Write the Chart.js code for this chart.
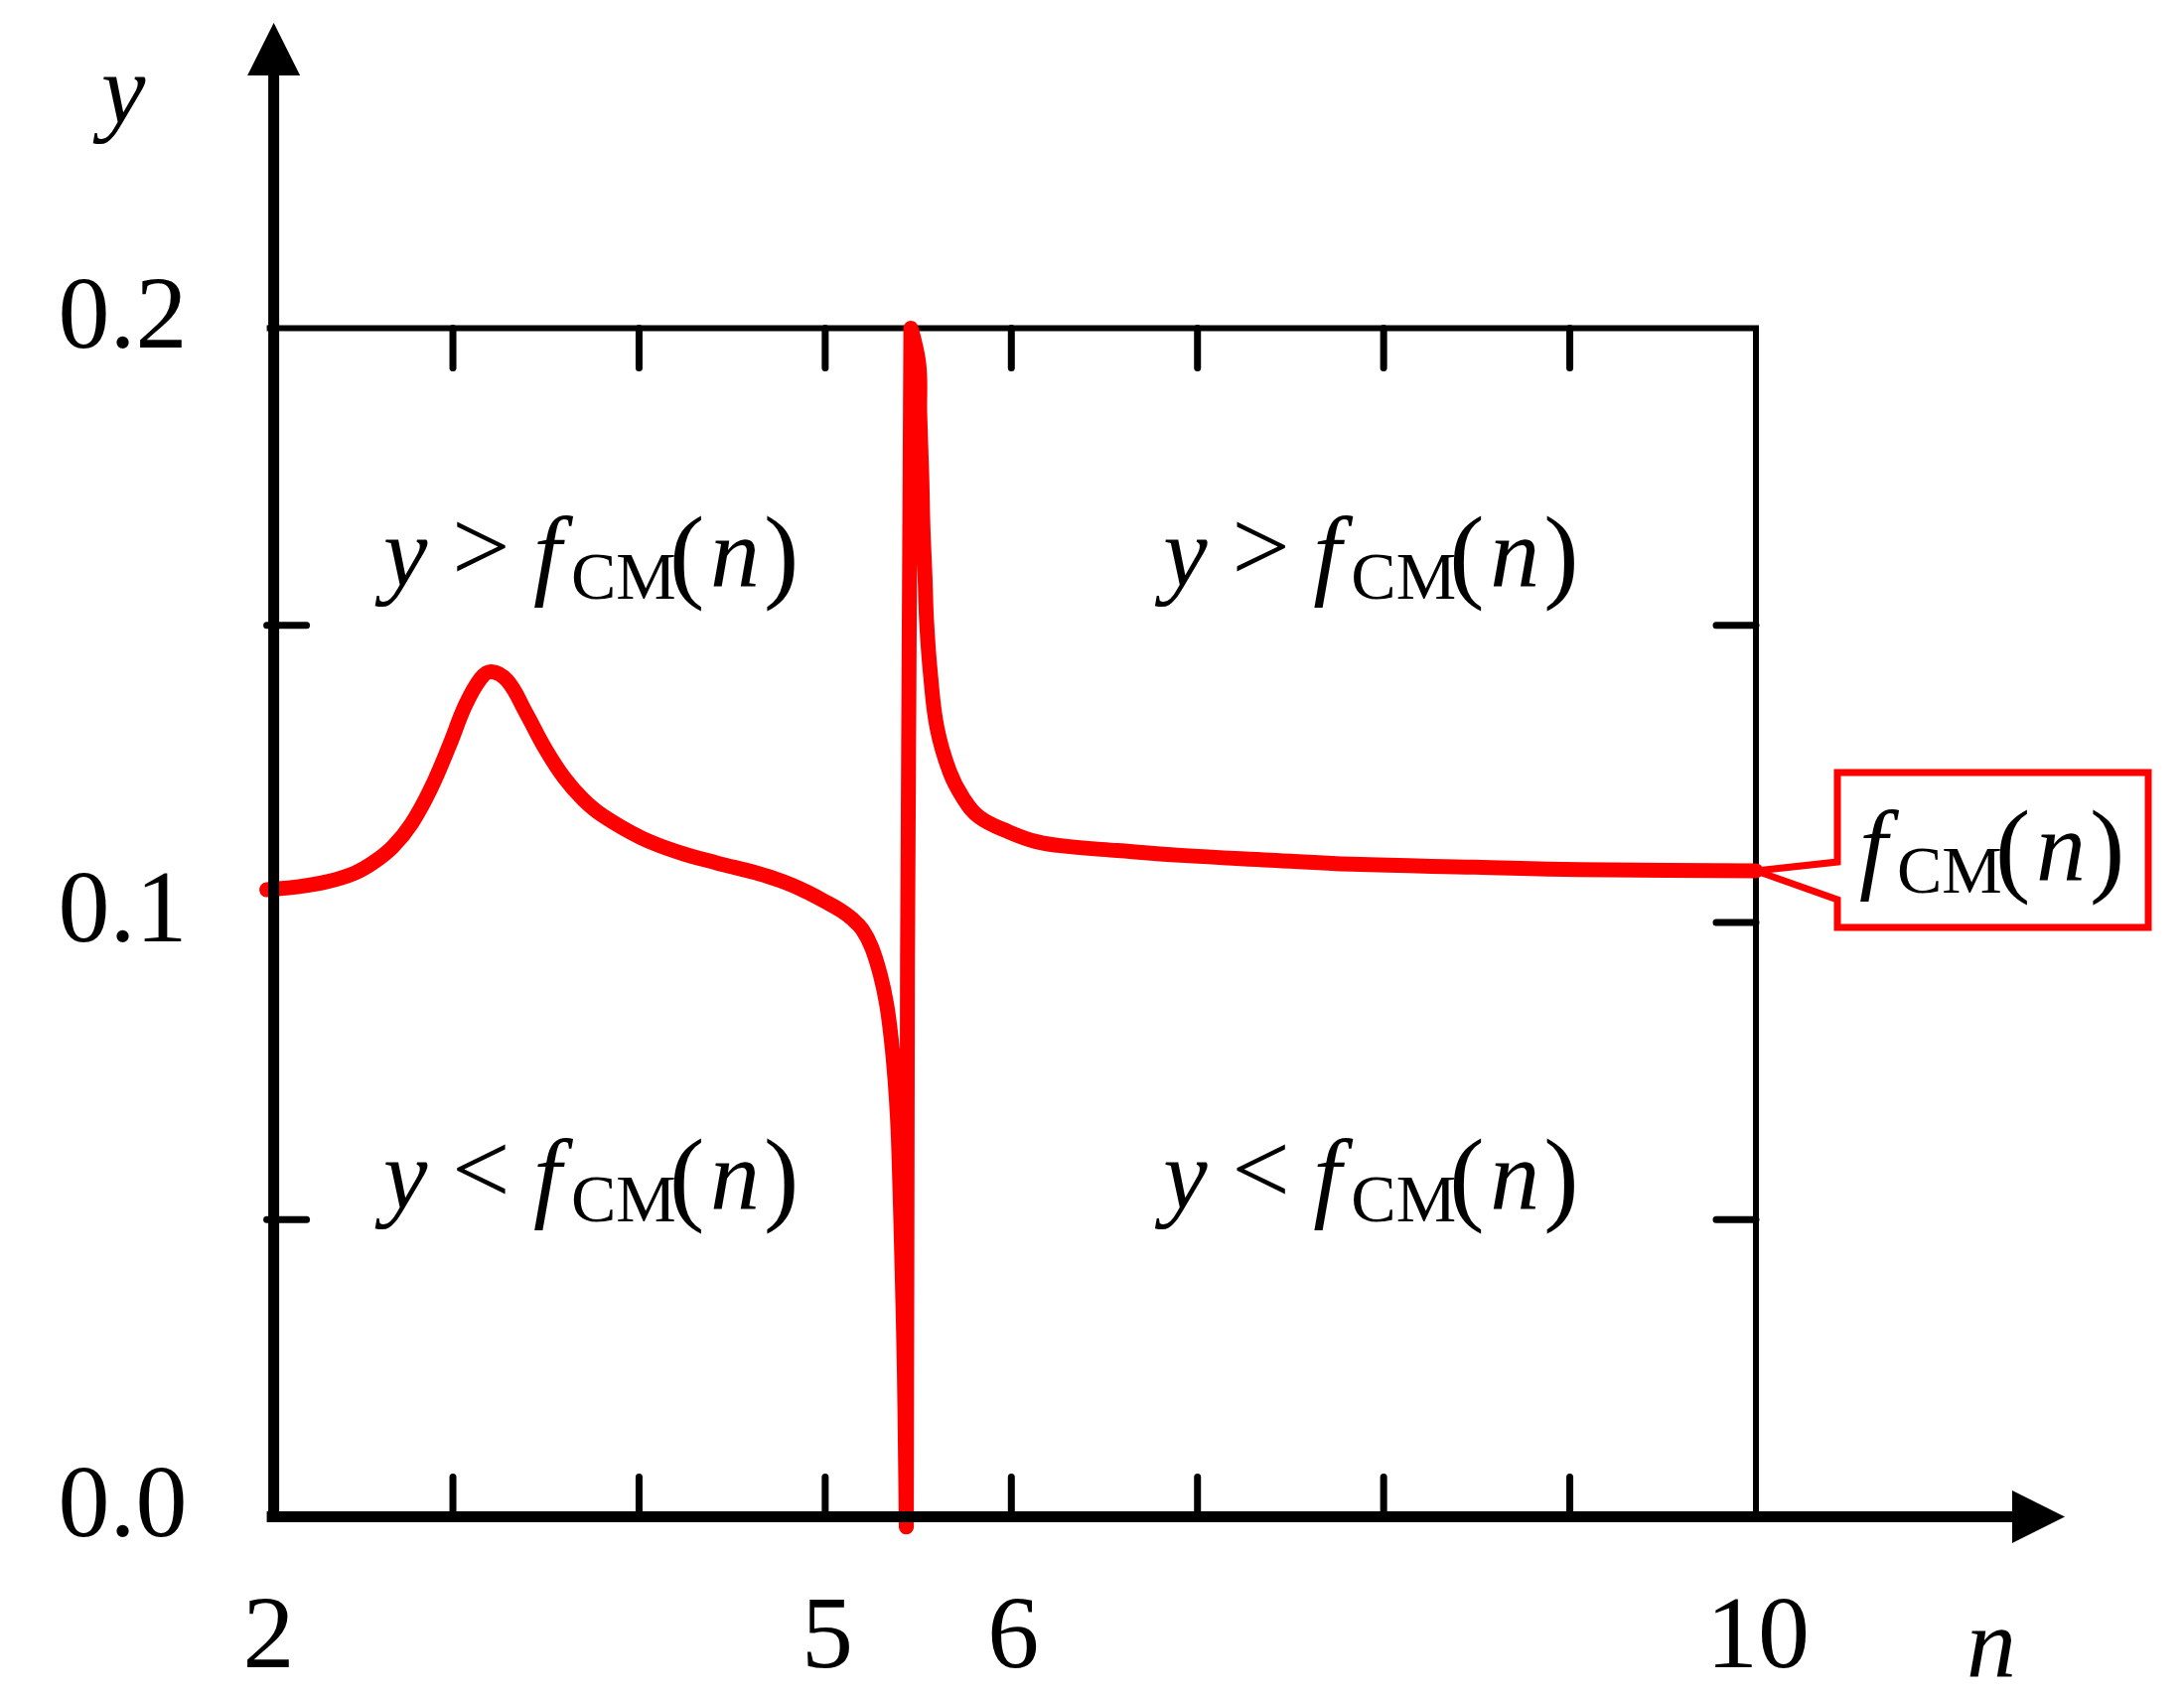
<!DOCTYPE html>
<html><head><meta charset="utf-8">
<script src="https://cdn.jsdelivr.net/npm/chart.js@4.4.1/dist/chart.umd.min.js"></script>
<style>html,body{margin:0;padding:0;background:#fff;overflow:hidden}canvas{display:block}</style>
</head><body>
<canvas id="c" width="2199" height="1708"></canvas>
<script>
// ---- data ----
const nValues = [2.000, 2.163, 2.328, 2.471, 2.573, 2.676, 2.779, 2.881, 2.984, 3.066, 3.148, 3.205, 3.292, 3.394, 3.497, 3.599, 3.700, 3.804, 4.009, 4.214, 4.420, 4.624, 4.736, 4.822, 4.910, 4.995, 5.085, 5.145, 5.200, 5.250, 5.296, 5.330, 5.356, 5.375, 5.388, 5.397, 5.413, 5.425, 5.432, 5.436,
  5.460, 5.503, 5.508, 5.519, 5.525, 5.536, 5.545, 5.566, 5.601, 5.668, 5.740, 5.829, 5.990, 6.135, 6.300, 6.570, 6.910, 7.390, 7.830, 8.490, 9.050, 10.000];
const fcmValues = [0.1055, 0.1060, 0.1069, 0.1083, 0.1101, 0.1127, 0.1167, 0.1225, 0.1300, 0.1365, 0.1410, 0.1422, 0.1407, 0.1352, 0.1292, 0.1243, 0.1207, 0.1180, 0.1143, 0.1118, 0.1100, 0.1084, 0.1073, 0.1063, 0.1050, 0.1036, 0.1020, 0.1006, 0.0988, 0.0958, 0.0912, 0.0862, 0.0800, 0.0735, 0.0672, 0.0600, 0.0414, 0.0246, 0.0079, -0.0010,
  0.2000, 0.1939, 0.1855, 0.1750, 0.1667, 0.1583, 0.1505, 0.1416, 0.1327, 0.1254, 0.1210, 0.1177, 0.1152, 0.1136, 0.1128, 0.1121, 0.1113, 0.1105, 0.1098, 0.1093, 0.1089, 0.1087];
const xTickLabels = [2, 5, 6, 10];
const yTickLabels = [0.0, 0.1, 0.2];
const xMinorTicks = [3, 4, 5, 6, 7, 8, 9];
const yMinorTicksLeft = [0.05, 0.15];
const yMinorTicksRight = [0.05, 0.1, 0.15];
const regionRelations = ['>', '>', '<', '<'];
const seriesName = 'fCM(n)';

const SERIF = '"Liberation Serif", "Times New Roman", serif';
const RED = '#FF0000';

// draw text so that its ink starts at 'left'
function glyph(ctx, txt, font, left, base) {
  ctx.font = font;
  const m = ctx.measureText(txt);
  ctx.fillText(txt, left + m.actualBoundingBoxLeft, base);
}
// draw text so that its ink is centred on 'cx'
function glyphC(ctx, txt, font, cx, base) {
  ctx.font = font;
  const m = ctx.measureText(txt);
  const w = m.actualBoundingBoxLeft + m.actualBoundingBoxRight;
  ctx.fillText(txt, cx - w / 2 + m.actualBoundingBoxLeft, base);
}
// f_CM(n) with the f ink starting at fx, main baseline at base
function drawFcm(ctx, fx, base) {
  glyphC(ctx, 'f', 'italic 102px ' + SERIF, fx + 33, base);
  glyph(ctx, 'CM', '68px ' + SERIF, fx + 52, base + 13);
  glyph(ctx, '(', '106px ' + SERIF, fx + 153, base + 3);
  glyph(ctx, 'n', 'italic 100px ' + SERIF, fx + 193, base);
  glyph(ctx, ')', '106px ' + SERIF, fx + 247, base + 3);
}

const framePlugin = {
  id: 'frame',
  beforeDatasetsDraw(chart) {
    const {ctx, scales: {x, y}} = chart;
    const L = x.getPixelForValue(2), R = x.getPixelForValue(10);
    const T = y.getPixelForValue(0.2), B = y.getPixelForValue(0);
    ctx.save();
    ctx.strokeStyle = '#000';
    ctx.lineWidth = 6;
    ctx.lineCap = 'butt';
    ctx.beginPath();
    ctx.moveTo(L, T); ctx.lineTo(R + 3, T);
    ctx.moveTo(R, T - 3); ctx.lineTo(R, B);
    ctx.stroke();
    ctx.lineWidth = 7;
    ctx.lineCap = 'round';
    ctx.beginPath();
    xMinorTicks.forEach(n => {
      const px = x.getPixelForValue(n);
      ctx.moveTo(px, T); ctx.lineTo(px, T + 40);
      ctx.moveTo(px, B); ctx.lineTo(px, B - 40);
    });
    yMinorTicksLeft.forEach(v => {
      const py = y.getPixelForValue(v);
      ctx.moveTo(L, py); ctx.lineTo(L + 40, py);
    });
    yMinorTicksRight.forEach(v => {
      const py = y.getPixelForValue(v);
      ctx.moveTo(R, py); ctx.lineTo(R - 40, py);
    });
    ctx.stroke();
    ctx.restore();
  },
  afterDatasetsDraw(chart) {
    const {ctx, scales: {x, y}} = chart;
    const L = x.getPixelForValue(2), R = x.getPixelForValue(10);
    const B = y.getPixelForValue(0);
    ctx.save();
    ctx.fillStyle = '#000';
    ctx.strokeStyle = '#000';
    // x axis with arrow
    ctx.lineWidth = 11;
    ctx.lineCap = 'butt';
    ctx.beginPath();
    ctx.moveTo(L, B); ctx.lineTo(2028, B);
    ctx.stroke();
    ctx.beginPath();
    ctx.moveTo(2026, B - 26.5); ctx.lineTo(2079, B); ctx.lineTo(2026, B + 26.5); ctx.closePath();
    ctx.fill();
    // y axis with arrow
    const yx = L + 7;
    ctx.beginPath();
    ctx.moveTo(yx, B + 5.5); ctx.lineTo(yx, 74);
    ctx.stroke();
    ctx.beginPath();
    ctx.moveTo(yx - 26.5, 76); ctx.lineTo(yx, 23); ctx.lineTo(yx + 26.5, 76); ctx.closePath();
    ctx.fill();

    // axis titles
    ctx.textBaseline = 'alphabetic';
    glyph(ctx, 'y', 'italic 100px ' + SERIF, 93, 124);
    glyph(ctx, 'n', 'italic 100px ' + SERIF, 1983, 1688);

    // region annotations (anchor = left of the f, main baseline)
    const anchors = [
      {n: 3.368, v: 0.1566},
      {n: 7.558, v: 0.1566},
      {n: 3.368, v: 0.0519},
      {n: 7.558, v: 0.0519}
    ];
    anchors.forEach((a, i) => {
      const fx = x.getPixelForValue(a.n);
      const base = y.getPixelForValue(a.v);
      glyph(ctx, 'y', 'italic 100px ' + SERIF, fx - 148, base);
      glyph(ctx, regionRelations[i], '104px ' + SERIF, fx - 65, base - 5);
      drawFcm(ctx, fx, base);
    });

    // callout legend
    const tipX = R, tipY = y.getPixelForValue(fcmValues[fcmValues.length - 1]);
    ctx.strokeStyle = RED;
    ctx.lineWidth = 7;
    ctx.lineJoin = 'miter';
    ctx.beginPath();
    ctx.moveTo(tipX, tipY);
    ctx.lineTo(1850, 868);
    ctx.lineTo(1850, 778);
    ctx.lineTo(2163, 778);
    ctx.lineTo(2163, 934);
    ctx.lineTo(1850, 934);
    ctx.lineTo(1850, 906);
    ctx.closePath();
    ctx.stroke();
    ctx.fillStyle = '#000';
    drawFcm(ctx, 1860, 886);
    ctx.restore();
  }
};

const ctx = document.getElementById('c').getContext('2d');
new Chart(ctx, {
  type: 'line',
  data: {
    datasets: [{
      label: seriesName,
      data: nValues.map((n, i) => ({x: n, y: fcmValues[i]})),
      borderColor: RED,
      backgroundColor: RED,
      borderWidth: 15,
      pointRadius: 0,
      fill: false,
      tension: 0.4,
      borderCapStyle: 'round',
      borderJoinStyle: 'round',
      clip: false
    }]
  },
  options: {
    responsive: false,
    devicePixelRatio: 1,
    animation: false,
    layout: {padding: {left: 0, top: 330.5, right: 2199 - 1768, bottom: 0}},
    plugins: {legend: {display: false}, tooltip: {enabled: false}, title: {display: false}},
    scales: {
      x: {
        type: 'linear', min: 2, max: 10, position: 'bottom',
        afterBuildTicks: s => { s.ticks = xTickLabels.map(v => ({value: v})); },
        afterFit: s => { s.height = 1708 - 1527.5; },
        ticks: {
          autoSkip: false, maxRotation: 0, padding: 62, labelOffset: 2,
          color: '#000', font: {family: SERIF, size: 104},
          callback: v => String(v)
        },
        grid: {display: false, drawTicks: false},
        border: {display: false}
      },
      y: {
        type: 'linear', min: 0, max: 0.2,
        afterBuildTicks: s => { s.ticks = yTickLabels.map(v => ({value: v})); },
        afterFit: s => { s.width = 268.6; },
        ticks: {
          padding: 80, labelOffset: -8,
          color: '#000', font: {family: SERIF, size: 104},
          callback: v => v.toFixed(1)
        },
        grid: {display: false, drawTicks: false},
        border: {display: false}
      }
    }
  },
  plugins: [framePlugin]
});
</script>
</body></html>
